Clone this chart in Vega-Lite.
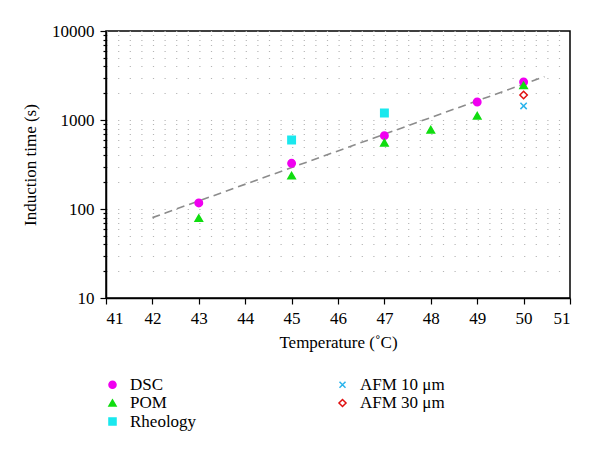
{
  "$schema": "https://vega.github.io/schema/vega-lite/v6.json",
  "width": 464,
  "height": 267,
  "autosize": {"type": "none"},
  "padding": {"left": 106, "top": 31, "right": 30, "bottom": 165},
  "background": "white",
  "config": {
    "view": {"stroke": "black", "strokeWidth": 1.5},
    "font": "Liberation Serif",
    "axis": {
      "labelFont": "Liberation Serif",
      "titleFont": "Liberation Serif",
      "labelFontSize": 17,
      "titleFontSize": 17,
      "titleFontWeight": "normal",
      "labelColor": "black",
      "titleColor": "black",
      "domainColor": "black",
      "domainWidth": 1.5,
      "tickColor": "black",
      "tickWidth": 1.2
    }
  },
  "layer": [
    {
      "data": {"values": [
        {"t": 42, "y": 80},
        {"t": 50.45, "y": 3070}
      ]},
      "mark": {"type": "line", "color": "#8c8c8c", "strokeWidth": 1.6, "strokeDash": [8, 5]},
      "encoding": {
        "x": {"field": "t", "type": "quantitative"},
        "y": {"field": "y", "type": "quantitative"}
      }
    },
    {
      "data": {"values": [
        {"series": "DSC", "t": 43, "y": 117},
        {"series": "DSC", "t": 45, "y": 326},
        {"series": "DSC", "t": 47, "y": 667},
        {"series": "DSC", "t": 49, "y": 1592},
        {"series": "DSC", "t": 50, "y": 2673},
        {"series": "POM", "t": 43, "y": 79},
        {"series": "POM", "t": 45, "y": 237},
        {"series": "POM", "t": 47, "y": 556},
        {"series": "POM", "t": 48, "y": 778},
        {"series": "POM", "t": 49, "y": 1117},
        {"series": "POM", "t": 50, "y": 2450},
        {"series": "Rheology", "t": 45, "y": 596},
        {"series": "Rheology", "t": 47, "y": 1200},
        {"series": "AFM 10 μm", "t": 50, "y": 1437},
        {"series": "AFM 30 μm", "t": 50, "y": 1910}
      ]},
      "mark": {"type": "point", "size": 55, "strokeWidth": 1.5, "opacity": 1},
      "encoding": {
        "x": {
          "field": "t", "type": "quantitative",
          "scale": {"domain": [41, 51], "nice": false, "zero": false},
          "axis": {
            "title": "Temperature (˚C)",
            "grid": false,
            "values": [41, 41.25, 41.5, 41.75, 42, 42.25, 42.5, 42.75, 43, 43.25, 43.5, 43.75, 44, 44.25, 44.5, 44.75, 45, 45.25, 45.5, 45.75, 46, 46.25, 46.5, 46.75, 47, 47.25, 47.5, 47.75, 48, 48.25, 48.5, 48.75, 49, 49.25, 49.5, 49.75, 50, 50.25, 50.5, 50.75, 51],
            "labelExpr": "datum.value % 1 == 0 ? format(datum.value, 'd') : ''",
            "tickSize": {"condition": {"test": "datum.value % 1 == 0", "value": 6}, "value": 3},
            "labelPadding": 6,
            "titlePadding": 8
          }
        },
        "y": {
          "field": "y", "type": "quantitative",
          "scale": {"type": "log", "domain": [10, 10000], "nice": false},
          "axis": {
            "title": "Induction time (s)",
            "values": [10, 20, 30, 40, 50, 60, 70, 80, 90, 100, 200, 300, 400, 500, 600, 700, 800, 900, 1000, 2000, 3000, 4000, 5000, 6000, 7000, 8000, 9000, 10000],
            "labelExpr": "indexof([10, 100, 1000, 10000], datum.value) >= 0 ? format(datum.value, 'd') : ''",
            "tickSize": {"condition": {"test": "indexof([10, 100, 1000, 10000], datum.value) >= 0", "value": 6}, "value": 3},
            "grid": true,
            "gridColor": "#b5b5b5",
            "gridWidth": 1.2,
            "gridDash": [1.2, 10.4],
            "labelPadding": 6,
            "titlePadding": 12
          }
        },
        "shape": {
          "field": "series", "type": "nominal",
          "scale": {
            "domain": ["DSC", "POM", "Rheology", "AFM 10 μm", "AFM 30 μm"],
            "range": ["circle", "triangle-up", "square", "M-0.85,-0.85L0.85,0.85M-0.85,0.85L0.85,-0.85", "diamond"]
          },
          "legend": {
            "title": null,
            "orient": "none",
            "legendX": -2,
            "legendY": 345,
            "columns": 2,
            "columnPadding": 137,
            "rowPadding": 0.5,
            "labelFont": "Liberation Serif",
            "labelFontSize": 17,
            "labelColor": "black",
            "labelOffset": 9,
            "symbolSize": 50,
            "symbolStrokeWidth": 1.5
          }
        },
        "fill": {
          "field": "series", "type": "nominal",
          "scale": {
            "domain": ["DSC", "POM", "Rheology", "AFM 10 μm", "AFM 30 μm"],
            "range": ["#f000f0", "#10dd10", "#1ae8ee", "transparent", "white"]
          }
        },
        "stroke": {
          "field": "series", "type": "nominal",
          "scale": {
            "domain": ["DSC", "POM", "Rheology", "AFM 10 μm", "AFM 30 μm"],
            "range": ["#f000f0", "#10dd10", "#1ae8ee", "#2ab4ec", "#e01010"]
          }
        }
      }
    }
  ]
}
